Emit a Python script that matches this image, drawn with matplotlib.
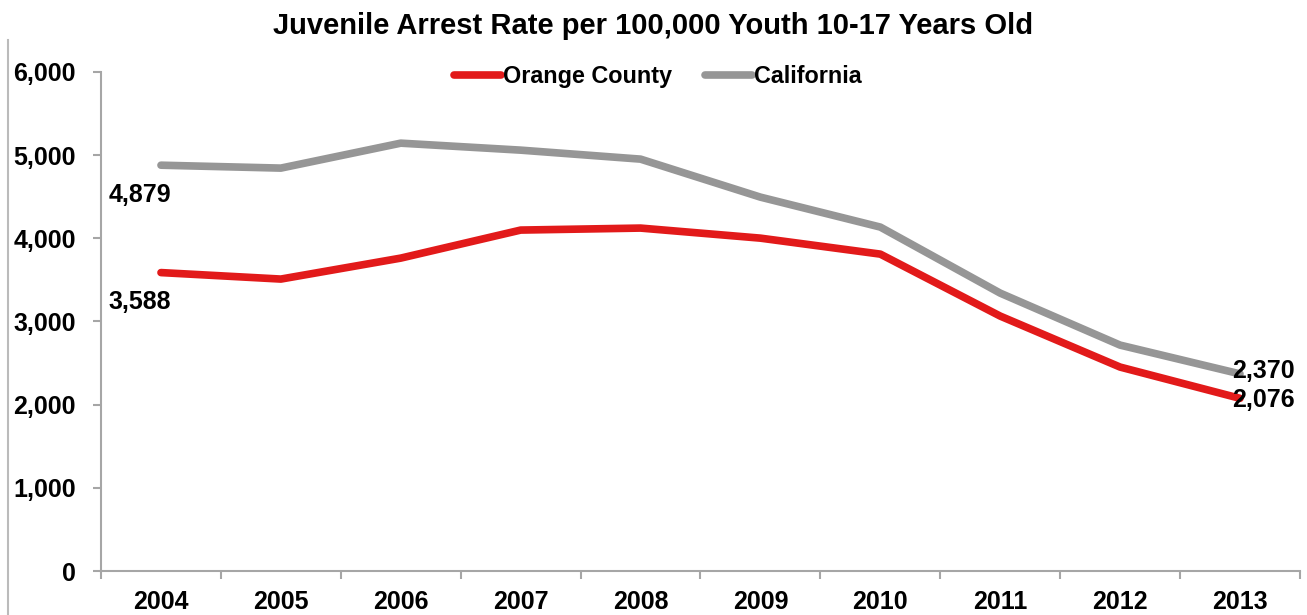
import numpy as np
import matplotlib.pyplot as plt
from matplotlib.lines import Line2D
from matplotlib.ticker import FuncFormatter

years = ['2004', '2005', '2006', '2007', '2008', '2009', '2010', '2011', '2012', '2013']
orange_county = [3588, 3510, 3762, 4099, 4123, 4002, 3810, 3065, 2452, 2076]
california = [4879, 4844, 5144, 5060, 4952, 4495, 4135, 3341, 2716, 2370]

plt.rcParams['font.family'] = ['Liberation Sans', 'DejaVu Sans']
plt.rcParams['font.weight'] = 'bold'

red = '#E21A1A'
grey = '#969696'
axis_grey = '#A6A6A6'

fig = plt.figure(figsize=(13.07, 6.15), dpi=100)
ax = fig.add_axes([0.0773, 0.0715, 0.9173, 0.8115])

x = np.arange(len(years))
ax.plot(x, orange_county, color=red, lw=5.5, solid_capstyle='round', label='Orange County')
ax.plot(x, california, color=grey, lw=5.5, solid_capstyle='round', label='California')

ax.set_xlim(-0.5, len(years) - 0.5)
ax.set_ylim(0, 6000)
ax.set_yticks(np.arange(0, 6001, 1000))
ax.yaxis.set_major_formatter(FuncFormatter(lambda v, p: f'{int(v):,}'))
ax.set_xticks(x)
ax.set_xticklabels(years)
ax.set_xticks(np.arange(-0.5, len(years)), minor=True)
ax.tick_params(axis='x', which='major', length=0, pad=14, labelsize=18)
ax.tick_params(axis='x', which='minor', length=6, width=1.5, color=axis_grey, direction='out')
ax.tick_params(axis='y', length=6, width=1.5, color=axis_grey, pad=12, labelsize=18)

for s in ['top', 'right']:
    ax.spines[s].set_visible(False)
for s in ['left', 'bottom']:
    ax.spines[s].set_color(axis_grey)
    ax.spines[s].set_linewidth(1.5)

# first and last values
ax.annotate(f'{california[0]:,}', (x[0], california[0]), xytext=(-15, -21.5),
            textcoords='offset points', ha='center', va='center', fontsize=18)
ax.annotate(f'{orange_county[0]:,}', (x[0], orange_county[0]), xytext=(-15, -21.5),
            textcoords='offset points', ha='center', va='center', fontsize=18)
ax.annotate(f'{california[-1]:,}', (x[-1], california[-1]), xytext=(-6, 2),
            textcoords='offset points', ha='left', va='center', fontsize=18)
ax.annotate(f'{orange_county[-1]:,}', (x[-1], orange_county[-1]), xytext=(-6, -1),
            textcoords='offset points', ha='left', va='center', fontsize=18)

ax.legend(loc='upper center', bbox_to_anchor=(0.4645, 1.056), ncol=2, frameon=False,
          fontsize=16.8, handlelength=2.0, handletextpad=0.1, columnspacing=1.4)

fig.suptitle('Juvenile Arrest Rate per 100,000 Youth 10-17 Years Old',
             x=0.5, y=0.98, fontsize=21, fontweight='bold')

fig.add_artist(Line2D([8 / 1307, 8 / 1307], [0, 1 - 40 / 615], transform=fig.transFigure,
                      color='#BBBBBB', lw=1.5))

fig.savefig('out.png', dpi=100, facecolor='white')
